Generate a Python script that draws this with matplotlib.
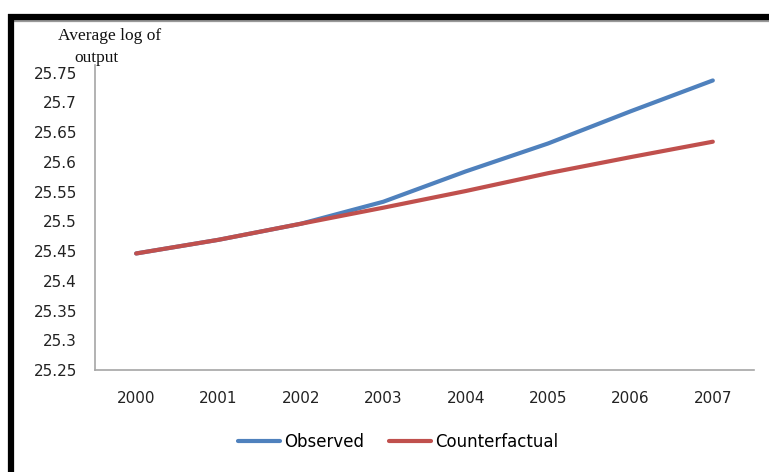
import matplotlib.pyplot as plt
from matplotlib.lines import Line2D


years = ["2000", "2001", "2002", "2003", "2004", "2005", "2006", "2007"]

observed = [25.446, 25.469, 25.496, 25.533, 25.584, 25.631, 25.685, 25.737]
counterfactual = [25.446, 25.469, 25.496, 25.523, 25.551, 25.581, 25.608, 25.634]

y_ticks = [25.25, 25.3, 25.35, 25.4, 25.45, 25.5, 25.55, 25.6, 25.65, 25.7, 25.75]
y_tick_labels = ["25.25", "25.3", "25.35", "25.4", "25.45", "25.5",
                 "25.55", "25.6", "25.65", "25.7", "25.75"]

BLUE = "#4F81BD"
RED = "#C0504D"
GRAY = "#A6A6A6"

plt.rcParams["font.family"] = ["DejaVu Sans"]

fig = plt.figure(figsize=(7.69, 4.72), dpi=100)
ax = fig.add_axes([0.1235, 0.2161, 0.857, 0.6462])

x = range(len(years))

ax.plot(x, observed, color=BLUE, linewidth=3, solid_capstyle="round", label="Observed")
ax.plot(x, counterfactual, color=RED, linewidth=3, solid_capstyle="round", label="Counterfactual")

ax.set_xlim(-0.5, len(years) - 0.5)
ax.set_ylim(25.25, 25.763)

ax.set_xticks(list(x))
ax.set_xticklabels(years, fontsize=11, color="#222222")
ax.set_yticks(y_ticks)
ax.set_yticklabels(y_tick_labels, fontsize=11, color="#222222")
ax.tick_params(axis="both", length=0)
ax.tick_params(axis="x", pad=15)
ax.tick_params(axis="y", pad=13)

for side in ["top", "right"]:
    ax.spines[side].set_visible(False)
for side in ["left", "bottom"]:
    ax.spines[side].set_color(GRAY)
    ax.spines[side].set_linewidth(1.2)

# axis title sits above the value labels, Excel style, second line shifted left
title_style = dict(ha="center", va="center", fontsize=12.5,
                   family="Liberation Serif", color="#111111")
fig.text(0.143, 0.924, "Average log of", **title_style)
fig.text(0.125, 0.878, "output", **title_style)

fig.legend(loc="center", bbox_to_anchor=(0.5176, 0.0636), ncol=2, frameon=False,
           fontsize=12, handlelength=2.5, handletextpad=0.25, columnspacing=1.5)

# thick black frame along the top and left edges
fig.add_artist(Line2D([0.0105, 1.0], [0.9595, 0.9595], color="#999999", linewidth=4.5,
                      transform=fig.transFigure, solid_capstyle="butt"))
fig.add_artist(Line2D([0.0105, 1.0], [0.964, 0.964], color="black", linewidth=4.5,
                      transform=fig.transFigure, solid_capstyle="butt"))
fig.add_artist(Line2D([0.0143, 0.0143], [0.0, 0.9705], color="black", linewidth=4.5,
                      transform=fig.transFigure, solid_capstyle="butt"))

fig.savefig("out.png", dpi=100)
